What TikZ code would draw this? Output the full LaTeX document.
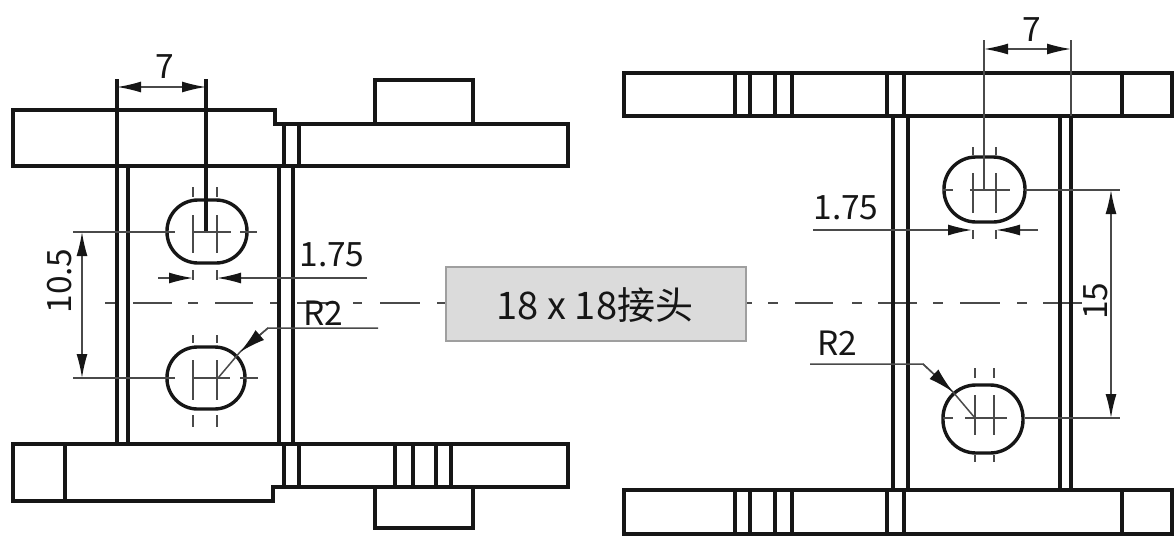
\documentclass[tikz,border=0pt]{standalone}
\usepackage{fontspec}
\setmainfont{Noto Sans CJK SC}
\usetikzlibrary{arrows.meta}
\definecolor{ink}{HTML}{161616}
\definecolor{thinline}{HTML}{4A4A4A}
\tikzset{
  outline/.style={draw=ink,line width=3.4pt,line join=miter},
  rail/.style={draw=ink,line width=3.4pt},
  slotshape/.style={draw=ink,line width=3.4pt},
  dimline/.style={draw=thinline,line width=1.5pt},
  centreline/.style={draw=thinline,line width=1.6pt},
  tip/.style={-{Latex[length=24pt,width=11pt,inset=0pt,color=ink]}},
  bigtip/.style={-{Latex[length=26pt,width=13pt,inset=0pt,color=ink]}},
  label/.style={text=ink,font=\fontsize{33.5}{33.5}\selectfont,inner sep=0pt},
  connbox/.style={draw=gray!75,fill=black!14,line width=1.5pt},
}
% slot: centre x, centre y, width, height, corner radius
\newcommand{\slotat}[5]{%
  \draw[slotshape] (#1+#3/2-#5,#2-#4/2)
    arc[start angle=90,delta angle=-90,radius=#5 pt] -- (#1+#3/2,#2+#4/2-#5)
    arc[start angle=0,delta angle=-90,radius=#5 pt] -- (#1-#3/2+#5,#2+#4/2)
    arc[start angle=-90,delta angle=-90,radius=#5 pt] -- (#1-#3/2,#2-#4/2+#5)
    arc[start angle=180,delta angle=-90,radius=#5 pt] -- cycle;}
\begin{document}
\begin{tikzpicture}[x=1pt,y=-1pt]
\useasboundingbox (0,0) rectangle (1176,541);

% ---- centre line
\foreach \a/\b in {105/116,133/172,188/198,215/253,270/280,297/336,353/362,380/420,437/446,
                   746/752,768/778,795/833,852/862,878/917,933/943,960/1000,1017/1027,1043/1082}
  \draw[centreline] (\a,303) -- (\b,303);

% ---- left view, plates
\draw[outline] (13,110) -- (275,110) -- (275,124) -- (568,124) -- (568,166) -- (13,166) -- cycle;
\draw[outline] (375,124) -- (375,80) -- (473,80) -- (473,124);
\draw[outline] (13,444) -- (568,444) -- (568,487) -- (273,487) -- (273,501) -- (13,501) -- cycle;
\draw[outline] (375,487) -- (375,528) -- (473,528) -- (473,487);
\foreach \x/\a/\b in {284/124/166,299/124/166,65/444/501,284/444/487,299/444/487,
                      395/444/487,413/444/487,436/444/487,451/444/487,
                      128/166/444,279/166/444,293/166/444,117/79/444}
  \draw[rail] (\x,\a) -- (\x,\b);
\draw[rail] (206,79) -- (206,232);

% ---- right view, plates
\draw[outline] (624,73) rectangle (1172,116);
\draw[outline] (624,490) rectangle (1172,534);
\foreach \x in {735,750,775,792,887,904,1122} {
  \draw[rail] (\x,73) -- (\x,116);
  \draw[rail] (\x,490) -- (\x,534);
}
\foreach \x in {893,908,1060,1071}
  \draw[rail] (\x,116) -- (\x,490);

% ---- slots
\slotat{207}{231.5}{80}{63}{31}
\slotat{206}{378}{78}{62}{30.5}
\slotat{984.5}{189.5}{81}{65}{32}
\slotat{983}{419}{80}{68}{33}

% ---- slot centre marks
\foreach \x/\a/\b in {193/187/197,193/215/253,193/270/280,217/187/197,217/215/253,217/270/280,
                      193/335/343,193/360/400,193/415/427,217/335/343,217/360/400,217/415/427,
                      973/147/155,973/173/213,973/230/239,996/147/155,996/173/213,996/230/239,
                      975/368/378,975/395/435,975/455/462,994/368/378,994/395/435,994/455/462}
  \draw[dimline] (\x,\a) -- (\x,\b);
\foreach \y/\a/\b in {232/73/175,232/192/231,232/240/257,
                      378/73/175,378/192/230,378/240/258,
                      190/943/953,190/970/1010,190/1025/1120,
                      418/943/953,418/965/1007,418/1025/1120}
  \draw[dimline] (\a,\y) -- (\b,\y);

% ---- dimension end points
\coordinate (lsevena) at (117,87);  \coordinate (lsevenb) at (206,87);
\coordinate (lsevenm) at (161,87);
\coordinate (ltena) at (82,232);    \coordinate (ltenb) at (82,378);
\coordinate (ltenm) at (82,305);
\coordinate (lfa) at (158,278);     \coordinate (lfb) at (193,278);
\coordinate (lfc) at (367,278);     \coordinate (lfd) at (217,278);
\coordinate (rsevena) at (984,49);  \coordinate (rsevenb) at (1071,49);
\coordinate (rsevenm) at (1028,49);
\coordinate (rfa) at (813,230);     \coordinate (rfb) at (972,230);
\coordinate (rfc) at (1038,230);    \coordinate (rfd) at (996,230);
\coordinate (rfifa) at (1111,190);  \coordinate (rfifb) at (1111,418);
\coordinate (rfifm) at (1111,304);
\coordinate (lra) at (378,328);     \coordinate (lrb) at (268,328);
\coordinate (lrc) at (240,352);     \coordinate (lrd) at (218,378);
\coordinate (rra) at (810,364);     \coordinate (rrb) at (923,364);
\coordinate (rrc) at (953,392);     \coordinate (rrd) at (975,418);

% ---- dimensions
\draw[dimline,tip] (lsevenm) -- (lsevena);
\draw[dimline,tip] (lsevenm) -- (lsevenb);
\draw[dimline,tip] (ltenm) -- (ltena);
\draw[dimline,tip] (ltenm) -- (ltenb);
\draw[dimline,tip] (lfa) -- (lfb);
\draw[dimline,tip] (lfc) -- (lfd);
\draw[dimline,tip] (rsevenm) -- (rsevena);
\draw[dimline,tip] (rsevenm) -- (rsevenb);
\draw[dimline,tip] (rfa) -- (rfb);
\draw[dimline,tip] (rfc) -- (rfd);
\draw[dimline,tip] (rfifm) -- (rfifa);
\draw[dimline,tip] (rfifm) -- (rfifb);
\draw[dimline] (984,40) -- (984,190);
\draw[dimline] (1071,40) -- (1071,116);

% ---- leaders
\draw[dimline] (lra) -- (lrb) -- (lrc);
\draw[dimline] (lrc) -- (lrd);
\draw[dimline,bigtip] (lrb) -- (lrc);
\draw[dimline] (rra) -- (rrb) -- (rrc);
\draw[dimline] (rrc) -- (rrd);
\draw[dimline,bigtip] (rrb) -- (rrc);

% ---- connector box
\node[connbox,minimum width=300pt,minimum height=74pt,inner sep=0pt] (conn) at (596,304) {};
\node[text=ink,font=\fontsize{38}{38}\selectfont,inner sep=0pt] (connlabel) at (595,305) {18 x 18接头};

% ---- labels
\node[label] (tseven) at (165,67) {7};
\node[label] (tfive) at (332,255) {1.75};
\node[label,rotate=90] (tten) at (60,281) {10.5};
\node[label] (tr) at (323,313) {R2};
\node[label] (tsevenr) at (1032,30) {7};
\node[label] (tfiver) at (846,208) {1.75};
\node[label] (trr) at (837,343) {R2};
\node[label,rotate=90] (tfif) at (1096,301) {15};
\end{tikzpicture}
\end{document}
